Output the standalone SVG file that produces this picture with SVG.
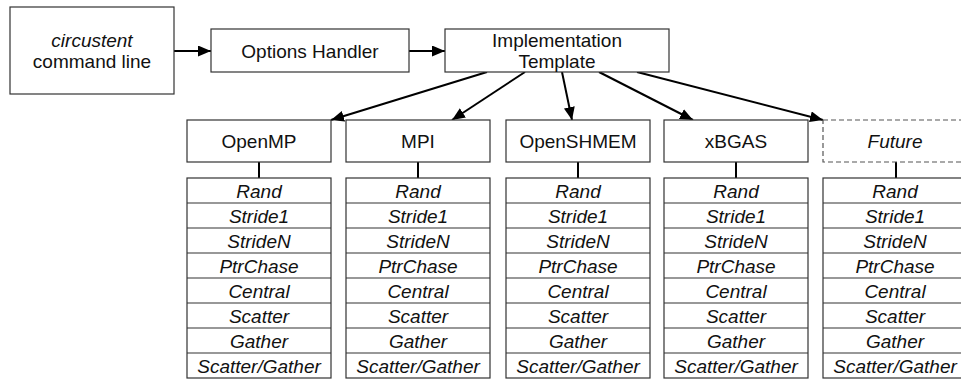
<svg xmlns="http://www.w3.org/2000/svg" width="961" height="379" viewBox="0 0 961 379">
<style>
  .box { fill: #fff; stroke: #333; stroke-width: 1.2; }
  .dash { fill: #fff; stroke: #555; stroke-width: 1.2; stroke-dasharray: 5 3; }
  text { font-family: "Liberation Sans", Arial, sans-serif; font-size: 19px; fill: #111; text-anchor: middle; }
  .it { font-style: italic; }
  .conn { stroke: #000; stroke-width: 2; fill: none; }
  .stem { stroke: #000; stroke-width: 2; }
</style>
<defs>
  <marker id="ah" markerUnits="userSpaceOnUse" markerWidth="14" markerHeight="12" refX="13" refY="5.5" orient="auto">
    <path d="M0,0 L13,5.5 L0,11 Z" fill="#000"/>
  </marker>
  <g id="list">
    <rect class="box" x="0" y="0" width="144" height="200"/>
    <line class="box" x1="0" y1="25" x2="144" y2="25"/>
    <line class="box" x1="0" y1="50" x2="144" y2="50"/>
    <line class="box" x1="0" y1="75" x2="144" y2="75"/>
    <line class="box" x1="0" y1="100" x2="144" y2="100"/>
    <line class="box" x1="0" y1="125" x2="144" y2="125"/>
    <line class="box" x1="0" y1="150" x2="144" y2="150"/>
    <line class="box" x1="0" y1="175" x2="144" y2="175"/>
    <text class="it" x="72" y="19.5">Rand</text>
    <text class="it" x="72" y="44.5">Stride1</text>
    <text class="it" x="72" y="69.5">StrideN</text>
    <text class="it" x="72" y="94.5">PtrChase</text>
    <text class="it" x="72" y="119.5">Central</text>
    <text class="it" x="72" y="144.5">Scatter</text>
    <text class="it" x="72" y="169.5">Gather</text>
    <text class="it" x="72" y="194.5">Scatter/Gather</text>
  </g>
</defs>

<g id="connectors">
  <line class="conn" x1="174" y1="51" x2="211" y2="51" marker-end="url(#ah)"/>
  <line class="conn" x1="409" y1="51" x2="445" y2="51" marker-end="url(#ah)"/>
  <line class="conn" x1="487" y1="72" x2="331" y2="120" marker-end="url(#ah)"/>
  <line class="conn" x1="525" y1="72" x2="452" y2="120" marker-end="url(#ah)"/>
  <line class="conn" x1="562" y1="72" x2="572" y2="120" marker-end="url(#ah)"/>
  <line class="conn" x1="599" y1="72" x2="693" y2="120" marker-end="url(#ah)"/>
  <line class="conn" x1="637" y1="72" x2="823" y2="120" marker-end="url(#ah)"/>
  <line class="stem" x1="259" y1="162" x2="259" y2="178"/>
  <line class="stem" x1="418" y1="162" x2="418" y2="178"/>
  <line class="stem" x1="578" y1="162" x2="578" y2="178"/>
  <line class="stem" x1="736" y1="162" x2="736" y2="178"/>
  <line class="stem" x1="896" y1="162" x2="896" y2="178"/>
</g>

<g id="cmdline">
  <rect class="box" x="10" y="7" width="164" height="87"/>
  <text class="it" x="92" y="47">circustent</text>
  <text x="92" y="68">command line</text>
</g>
<g id="options">
  <rect class="box" x="211" y="29" width="198" height="43"/>
  <text x="310" y="57.5">Options Handler</text>
</g>
<g id="impl">
  <rect class="box" x="445" y="29" width="224" height="43"/>
  <text x="557" y="47">Implementation</text>
  <text x="557" y="68">Template</text>
</g>

<g id="openmp">
  <rect class="box" x="187" y="120" width="144" height="42"/>
  <text x="259" y="148">OpenMP</text>
  <use href="#list" x="187" y="178"/>
</g>
<g id="mpi">
  <rect class="box" x="346" y="120" width="144" height="42"/>
  <text x="418" y="148">MPI</text>
  <use href="#list" x="346" y="178"/>
</g>
<g id="openshmem">
  <rect class="box" x="506" y="120" width="144" height="42"/>
  <text x="578" y="148">OpenSHMEM</text>
  <use href="#list" x="506" y="178"/>
</g>
<g id="xbgas">
  <rect class="box" x="664" y="120" width="144" height="42"/>
  <text x="736" y="148">xBGAS</text>
  <use href="#list" x="664" y="178"/>
</g>
<g id="future">
  <rect class="dash" x="823" y="120" width="144" height="42"/>
  <text class="it" x="895" y="148">Future</text>
  <use href="#list" x="823" y="178"/>
</g>
</svg>
